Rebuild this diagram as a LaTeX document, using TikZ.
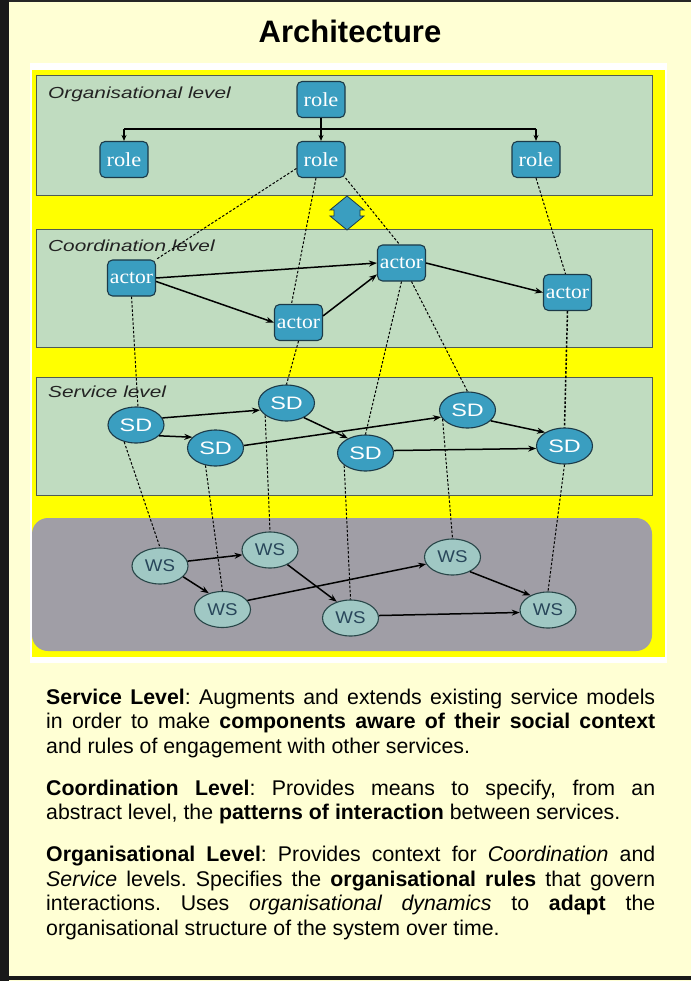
\documentclass[tikz,border=0pt]{standalone}
\usepackage{fontspec}
\setmainfont{Liberation Sans}
\newfontfamily\rolefont{Liberation Serif}
\usetikzlibrary{arrows.meta,shapes.geometric}
\definecolor{bgyel}{RGB}{255,255,212}
\definecolor{lvlgreen}{RGB}{192,220,192}
\definecolor{lvledge}{RGB}{80,92,84}
\definecolor{nodeblue}{RGB}{58,158,192}
\definecolor{nodeedge}{RGB}{28,58,72}
\definecolor{wsfill}{RGB}{160,200,196}
\definecolor{wsedge}{RGB}{40,70,72}
\definecolor{wstext}{RGB}{40,70,90}
\definecolor{graybox}{RGB}{160,158,166}
\definecolor{labtext}{RGB}{35,35,35}
\definecolor{brightyel}{RGB}{255,255,0}
\begin{document}
\frenchspacing
\begin{tikzpicture}[x=1pt,y=-1pt,
  rolebox/.style={draw=nodeedge, line width=1.1pt, fill=nodeblue, rounded corners=5pt,
    minimum width=48pt, minimum height=36pt, inner sep=0pt, text=white,
    font=\rolefont\fontsize{20}{20}\selectfont},
  sdnode/.style={ellipse, draw=nodeedge, line width=1.1pt, fill=nodeblue,
    minimum width=56pt, minimum height=36pt, inner sep=0pt, text=white,
    font=\fontsize{18}{18}\selectfont},
  wsnode/.style={ellipse, draw=wsedge, line width=1.1pt, fill=wsfill,
    minimum width=56pt, minimum height=36pt, inner sep=0pt, text=wstext,
    font=\fontsize{17}{17}\selectfont},
  level/.style={draw=lvledge, line width=0.9pt, fill=lvlgreen},
  levlab/.style={anchor=base west, inner sep=0pt, text=labtext,
    font=\itshape\fontsize{16}{16}\selectfont},
  flow/.style={-{Stealth[length=8pt,width=6pt]}, line width=1.5pt, black},
  tree/.style={line width=1.3pt, black},
  treearrow/.style={tree, -{Stealth[length=6pt,width=5pt]}},
  link/.style={dash pattern=on 2.5pt off 1.8pt, line width=1pt, black},
]
\useasboundingbox (0,0) rectangle (691,981);
% page background and frame
\fill[bgyel] (0,0) rectangle (691,981);
\fill[black!85] (0,0) rectangle (691,2.5);
\fill[black!90] (0,0) rectangle (9,981);
\fill[black!90] (0,976) rectangle (691,980);

% title
\node[anchor=base, inner sep=0pt, font=\bfseries\fontsize{31}{31}\selectfont] (title) at (350,43) {Architecture};

% picture area
\fill[white] (30,63) rectangle (667,663);
\fill[brightyel] (32,70) rectangle (665,657);

% levels
\draw[level] (36,75) rectangle (652,195);
\draw[level] (36,229) rectangle (652,347);
\draw[level] (36,377) rectangle (652,495);
\fill[graybox, rounded corners=16pt] (32,518) rectangle (652,651);

\node[levlab] (lorg) at (48,99) {\scalebox{1.3}[1]{Organisational level}};
\node[levlab] (lcoo) at (48,252) {\scalebox{1.3}[1]{Coordination level}};
\node[levlab] (lser) at (48,397) {\scalebox{1.3}[1]{Service level}};

% double arrow between organisational and coordination levels
\filldraw[fill=nodeblue, draw=nodeedge, line width=0.8pt]
  (347,196) -- (364,210) -- (360,210) -- (360,216) -- (364,216) -- (347,230)
  -- (330,216) -- (334,216) -- (334,210) -- (330,210) -- cycle;

% coordinates for the tree
\coordinate (j) at (321,129);
\coordinate (jl) at (124,129);
\coordinate (jr) at (536,129);

% nodes
\path
  (321,99.5) node[rolebox] (r0) {\scalebox{1.12}[1]{role}}
  (124,159.5) node[rolebox] (r1) {\scalebox{1.12}[1]{role}}
  (321,159.5) node[rolebox] (r2) {\scalebox{1.12}[1]{role}}
  (536,159.5) node[rolebox] (r3) {\scalebox{1.12}[1]{role}}
  (131.5,278) node[rolebox] (a1) {\scalebox{1.08}[1]{actor}}
  (298.5,322.5) node[rolebox] (a2) {\scalebox{1.08}[1]{actor}}
  (401.5,263) node[rolebox] (a3) {\scalebox{1.08}[1]{actor}}
  (567.5,292.5) node[rolebox] (a4) {\scalebox{1.08}[1]{actor}}
  (136,425) node[sdnode] (sd1) {\scalebox{1.3}[1]{SD}}
  (286.5,403) node[sdnode] (sd2) {\scalebox{1.3}[1]{SD}}
  (215.5,448) node[sdnode] (sd3) {\scalebox{1.3}[1]{SD}}
  (467.5,410) node[sdnode] (sd4) {\scalebox{1.3}[1]{SD}}
  (365.5,453) node[sdnode] (sd5) {\scalebox{1.3}[1]{SD}}
  (564.5,446) node[sdnode] (sd6) {\scalebox{1.3}[1]{SD}}
  (160,566) node[wsnode] (ws1) {\scalebox{1.1}[1]{WS}}
  (270,550) node[wsnode] (ws2) {\scalebox{1.1}[1]{WS}}
  (222.5,609.5) node[wsnode] (ws3) {\scalebox{1.1}[1]{WS}}
  (452.5,557) node[wsnode] (ws4) {\scalebox{1.1}[1]{WS}}
  (350.5,618) node[wsnode] (ws5) {\scalebox{1.1}[1]{WS}}
  (548,610) node[wsnode] (ws6) {\scalebox{1.1}[1]{WS}};

% dashed links between levels
\draw[link] (r2.200) -- (a1.north east);
\draw[link] ([xshift=-5pt]r2.south) -- ([xshift=-7pt]a2.north);
\draw[link] (r2.south east) -- ([xshift=-2pt]a3.north);
\draw[link] (r3.south) -- ([xshift=-2pt]a4.north);
\draw[link] (a1.south) -- ([xshift=2pt]sd1.north);
\draw[link] (a2.south) -- (sd2.north);
\draw[link] (a3.south) -- (sd5.north);
\draw[link] ([xshift=10pt]a3.south) -- (sd4.north);
\draw[link, line width=1.5pt] (a4.south) -- (sd6.north);
\draw[link] (sd1.-125) -- (ws1.north);
\draw[link] (sd3.-120) -- (ws3.north);
\draw[link] (sd2.-150) -- (ws2.north);
\draw[link] (sd5.-150) -- (ws5.north);
\draw[link] (sd4.-160) -- (ws4.north);
\draw[link] (sd6.south) -- (ws6.north);

% organisational tree
\draw[tree] (r0.south) -- (j);
\draw[tree] (jl) -- (jr);
\draw[treearrow] (jl) -- (r1.north);
\draw[treearrow] (j) -- (r2.north);
\draw[treearrow] (jr) -- (r3.north);

% coordination arrows
\draw[flow] (a1.east) -- (a3.west);
\draw[flow] (a1.-8) -- (a2.west);
\draw[flow] (a2.15) -- (a3.205);
\draw[flow] (a3.east) -- (a4.west);

% service arrows
\draw[flow] (sd1.15) -- (sd2.195);
\draw[flow] (sd1.-25) -- (sd3.155);
\draw[flow] (sd3.5) -- (sd4.195);
\draw[flow] (sd2.-40) -- (sd5.140);
\draw[flow] (sd4.-25) -- (sd6.145);
\draw[flow] (sd5.5) -- (sd6.185);

% web service arrows
\draw[flow] (ws1.10) -- (ws2.190);
\draw[flow] (ws1.-25) -- (ws3.130);
\draw[flow] (ws3.20) -- (ws4.195);
\draw[flow] (ws2.-40) -- (ws5.130);
\draw[flow] (ws4.-40) -- (ws6.140);
\draw[flow] (ws5.5) -- (ws6.185);

% body text
\node[anchor=base west, inner sep=0pt] (body) at (46,704) {%
\begin{minipage}[t]{609pt}
\fontsize{21.3}{24.5}\selectfont\frenchspacing
\setlength{\parindent}{0pt}\setlength{\parskip}{17.5pt}%
\textbf{Service Level}: Augments and extends existing service models\linebreak
in order to make \textbf{components aware of their social context}\linebreak
and rules of engagement with other services.

\textbf{Coordination Level}: Provides means to specify, from an\linebreak
abstract level, the \textbf{patterns of interaction} between services.

\textbf{Organisational Level}: Provides context for \textit{Coordination} and\linebreak
\textit{Service} levels. Specifies the \textbf{organisational rules} that govern\linebreak
interactions. Uses \textit{organisational dynamics} to \textbf{adapt} the\linebreak
organisational structure of the system over time.
\end{minipage}};
\end{tikzpicture}
\end{document}
